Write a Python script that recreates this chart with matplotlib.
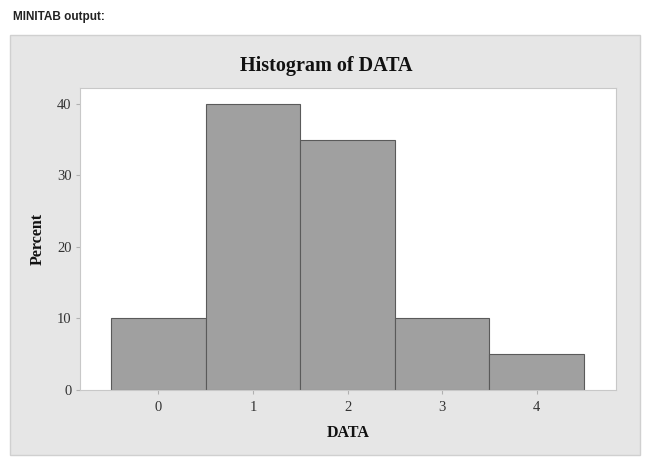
"""Minitab-style histogram of DATA (percent per integer value)."""
import matplotlib
matplotlib.use('Agg')
import matplotlib.pyplot as plt
from matplotlib.patches import Rectangle

DATA_VALUES = [0, 1, 2, 3, 4]
PERCENTS = [10, 40, 35, 10, 5]
Y_TICKS = [0, 10, 20, 30, 40]

SERIF = ['Liberation Serif', 'DejaVu Serif']

fig = plt.figure(figsize=(6.46, 4.61), dpi=100)
fig.patch.set_facecolor('white')

# Header text above the output panel
fig.text(13 / 646, 1 - 17 / 461, 'MINITAB output:', fontsize=8.5, fontweight='bold',
         family=['Liberation Sans', 'DejaVu Sans'], va='center', ha='left', color='#222222')

# Gray Minitab graph panel, kept behind the axes
fig.patches.append(Rectangle((10 / 646, 1 - 455 / 461), 630 / 646, 420 / 461,
                             transform=fig.transFigure, facecolor='#e6e6e6',
                             edgecolor='#d0d0d0', linewidth=1, zorder=-1))

# Title is centred on the panel, not the axes
fig.text(326 / 646, 1 - 66 / 461, 'Histogram of DATA', family=SERIF, fontsize=14.5,
         fontweight='bold', ha='center', va='center', color='#111111')

ax = fig.add_axes([80 / 646, 1 - 390 / 461, 536 / 646, 302 / 461])
ax.set_zorder(1)
ax.set_facecolor('white')
ax.bar(DATA_VALUES, PERCENTS, width=1.0, align='center', color='#a0a0a0',
       edgecolor='#5a5a5a', linewidth=0.8)

ax.set_xlim(-0.83, 4.84)
ax.set_ylim(0, 42.2)
ax.set_xticks(DATA_VALUES)
ax.set_yticks(Y_TICKS)
for lab in ax.get_xticklabels() + ax.get_yticklabels():
    lab.set_family(SERIF)
    lab.set_fontsize(10.5)
    lab.set_color('#333333')
ax.tick_params(axis='both', direction='out', length=3, color='#b0b0b0', width=0.8)
ax.tick_params(axis='x', pad=5)
ax.tick_params(axis='y', pad=3)
for sp in ax.spines.values():
    sp.set_color('#c8c8c8')
    sp.set_linewidth(0.8)

ax.set_xlabel('DATA', family=SERIF, fontsize=11.5, fontweight='bold', labelpad=8,
              color='#111111')
ax.set_ylabel('Percent', family=SERIF, fontsize=11.5, fontweight='bold', labelpad=8,
              color='#111111')

fig.savefig('out.png', dpi=100)
